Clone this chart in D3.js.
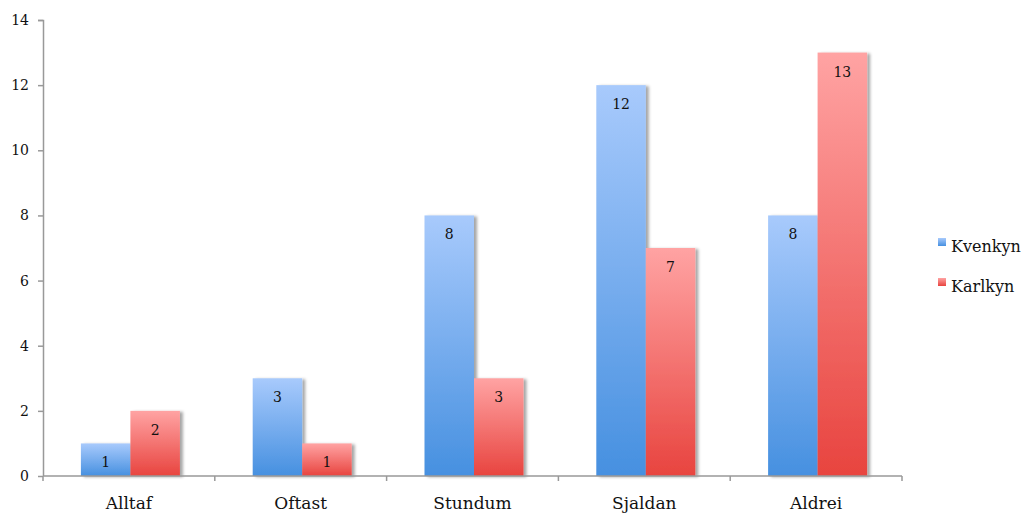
<!DOCTYPE html>
<html>
<head>
<meta charset="utf-8">
<script src="https://cdn.jsdelivr.net/npm/d3@7"></script>
<style>
	body { margin: 0; background: #fff; }
	svg text { font-family: "DejaVu Serif", "Liberation Serif", "Noto Serif", serif !important; fill: #111; }
</style>
</head>
<body>
<svg id="chart" width="1035" height="513"></svg>
<script>
var categories = [ 'Alltaf', 'Oftast', 'Stundum', 'Sjaldan', 'Aldrei' ];
var seriesNames = [ 'Kvenkyn', 'Karlkyn' ];
var kvenkyn = [ 1, 3, 8, 12, 8 ];
var karlkyn = [ 2, 1, 3, 7, 13 ];
var yTicks = [ 0, 2, 4, 6, 8, 10, 12, 14 ];

var colors = {
	Kvenkyn: { top: '#a8cafc', bottom: '#4690e0' },
	Karlkyn: { top: '#ffa3a3', bottom: '#e8443f' }
};

var svg = d3.select( '#chart' );
var margin = { left: 43, right: 133, top: 20, bottom: 37 };
var width = 1035 - margin.left - margin.right;
var height = 513 - margin.top - margin.bottom;

var defs = svg.append( 'defs' );
seriesNames.forEach( function ( s ) {
	var g = defs.append( 'linearGradient' )
		.attr( 'id', 'grad-' + s )
		.attr( 'x1', 0 ).attr( 'y1', 0 ).attr( 'x2', 0 ).attr( 'y2', 1 );
	g.append( 'stop' ).attr( 'offset', '0%' ).attr( 'stop-color', colors[s].top );
	g.append( 'stop' ).attr( 'offset', '100%' ).attr( 'stop-color', colors[s].bottom );
} );
var shadow = defs.append( 'filter' ).attr( 'id', 'shadow' )
	.attr( 'x', '-10%' ).attr( 'y', '-10%' ).attr( 'width', '130%' ).attr( 'height', '120%' );
shadow.append( 'feDropShadow' )
	.attr( 'dx', 3 ).attr( 'dy', 1 ).attr( 'stdDeviation', 1.5 )
	.attr( 'flood-color', '#000' ).attr( 'flood-opacity', 0.35 );

var g = svg.append( 'g' ).attr( 'transform', 'translate(' + margin.left + ',' + margin.top + ')' );

var x0 = d3.scaleBand().domain( categories ).range( [ 0, width ] ).paddingInner( 0 );
var x1 = d3.scaleBand().domain( seriesNames ).range( [ 0, 99 ] );
var y = d3.scaleLinear().domain( [ 0, 14 ] ).range( [ height, 0 ] );

var data = categories.map( function ( c, i ) {
	return { cat: c, values: [ { s: 'Kvenkyn', v: kvenkyn[i] }, { s: 'Karlkyn', v: karlkyn[i] } ] };
} );

var groups = g.selectAll( '.group' )
	.data( data )
	.enter()
	.append( 'g' )
	.attr( 'class', 'group' )
	.attr( 'transform', function ( d ) {
		return 'translate(' + ( x0( d.cat ) + ( x0.bandwidth() - 99 ) / 2 + 1.5 ) + ',0)';
	} );

var bars = groups.selectAll( '.bar' )
	.data( function ( d ) { return d.values; } )
	.enter()
	.append( 'g' )
	.attr( 'class', 'bar' );

bars.append( 'rect' )
	.attr( 'x', function ( d ) { return x1( d.s ); } )
	.attr( 'y', function ( d ) { return y( d.v ); } )
	.attr( 'width', x1.bandwidth() )
	.attr( 'height', function ( d ) { return height - y( d.v ); } )
	.attr( 'fill', function ( d ) { return 'url(#grad-' + d.s + ')'; } )
	.attr( 'filter', 'url(#shadow)' );

bars.append( 'text' )
	.attr( 'x', function ( d ) { return x1( d.s ) + x1.bandwidth() / 2; } )
	.attr( 'y', function ( d ) { return y( d.v ) + 24; } )
	.attr( 'text-anchor', 'middle' )
	.style( 'font-size', '14px' )
	.text( function ( d ) { return d.v; } );

// y axis
var yAxis = d3.axisLeft( y ).tickValues( yTicks ).tickSize( 5 ).tickPadding( 9 );
var ya = g.append( 'g' ).call( yAxis );
ya.attr( 'font-family', null );
ya.select( '.domain' ).attr( 'stroke', '#999' ).attr( 'stroke-width', 1.5 ).attr( 'd', 'M-5,0.5H0.5V' + height );
ya.selectAll( '.tick line' ).attr( 'stroke', '#999' ).attr( 'stroke-width', 1.5 );
ya.selectAll( '.tick text' ).style( 'font-size', '14px' ).attr( 'fill', '#222' );

// x axis
var xa = g.append( 'g' ).attr( 'transform', 'translate(0,' + height + ')' );
xa.append( 'line' )
	.attr( 'x1', 0 ).attr( 'x2', width ).attr( 'y1', 0 ).attr( 'y2', 0 )
	.attr( 'stroke', '#999' ).attr( 'stroke-width', 1.5 );
xa.selectAll( '.xtick' )
	.data( d3.range( categories.length + 1 ) )
	.enter()
	.append( 'line' )
	.attr( 'x1', function ( i ) { return i * x0.step(); } )
	.attr( 'x2', function ( i ) { return i * x0.step(); } )
	.attr( 'y1', 0 ).attr( 'y2', 5 )
	.attr( 'stroke', '#999' ).attr( 'stroke-width', 1.5 );
xa.selectAll( '.xlabel' )
	.data( categories )
	.enter()
	.append( 'text' )
	.attr( 'x', function ( d ) { return x0( d ) + x0.bandwidth() / 2; } )
	.attr( 'y', 33 )
	.attr( 'text-anchor', 'middle' )
	.style( 'font-size', '17px' )
	.text( function ( d ) { return d; } );

// legend
var legend = svg.append( 'g' ).attr( 'transform', 'translate(938,238)' );
var items = legend.selectAll( '.item' )
	.data( seriesNames )
	.enter()
	.append( 'g' )
	.attr( 'transform', function ( d, i ) { return 'translate(0,' + ( i * 40 ) + ')'; } );
items.append( 'rect' )
	.attr( 'width', 8 ).attr( 'height', 8 )
	.attr( 'fill', function ( d ) { return 'url(#grad-' + d + ')'; } );
items.append( 'text' )
	.attr( 'x', 13 )
	.attr( 'y', 14 )
	.style( 'font-size', '16px' )
	.text( function ( d ) { return d; } );
</script>
</body>
</html>
